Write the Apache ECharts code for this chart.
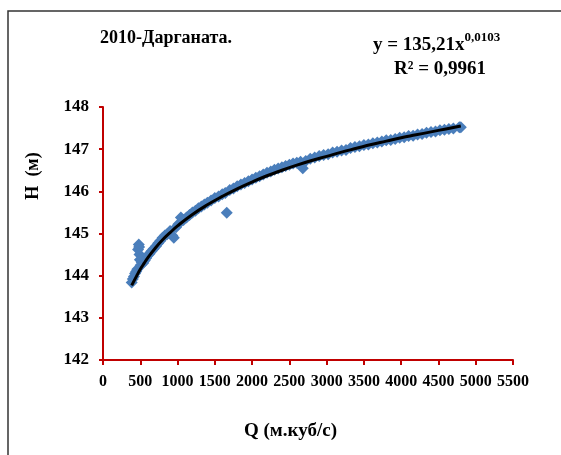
<!DOCTYPE html>
<html>
<head>
<meta charset="utf-8">
<script src="https://cdn.jsdelivr.net/npm/echarts@6/dist/echarts.min.js"></script>
<style>
  html, body { margin: 0; padding: 0; background: #fff; }
  #chart { width: 561px; height: 455px; }
</style>
</head>
<body>
<div id="chart"></div>
<script>
// measured points: Q (m3/s) and H (m)
const qValues = [385, 400, 415, 430, 445, 460, 470, 480, 485, 490, 495, 505, 520, 540, 560, 580, 600, 625, 650, 680,
  710, 740, 770, 800, 830, 860, 900, 930, 950, 980, 1010, 1045, 1080, 1120, 1160, 1200, 1240, 1280, 1320, 1360,
  1400, 1450, 1500, 1550, 1600, 1640, 1660, 1700, 1750, 1800, 1850, 1900, 1950, 2000, 2050, 2100, 2150, 2200, 2250, 2300,
  2350, 2400, 2450, 2500, 2550, 2600, 2650, 2680, 2720, 2780, 2840, 2900, 2960, 3020, 3080, 3140, 3200, 3260, 3320, 3380,
  3440, 3500, 3560, 3620, 3680, 3740, 3800, 3860, 3920, 3980, 4040, 4100, 4160, 4220, 4280, 4340, 4400, 4460, 4520, 4580,
  4640, 4700, 4780, 4800];
const hValues = [143.84, 143.92, 143.98, 144.05, 144.10, 144.15, 144.62, 144.74, 144.68, 144.50, 144.38, 144.25, 144.32, 144.30, 144.36, 144.42, 144.48, 144.52, 144.58, 144.64,
  144.70, 144.77, 144.83, 144.90, 144.95, 144.98, 145.06, 144.95, 144.90, 145.15, 145.22, 145.38, 145.32, 145.38, 145.44, 145.50, 145.54, 145.60, 145.64, 145.69,
  145.73, 145.78, 145.84, 145.88, 145.93, 145.96, 145.49, 146.03, 146.07, 146.12, 146.16, 146.20, 146.24, 146.28, 146.32, 146.36, 146.40, 146.44, 146.47, 146.51,
  146.54, 146.57, 146.60, 146.63, 146.66, 146.68, 146.70, 146.55, 146.72, 146.77, 146.80, 146.84, 146.86, 146.88, 146.92, 146.94, 146.97, 146.98, 147.03, 147.05,
  147.07, 147.10, 147.11, 147.14, 147.16, 147.18, 147.21, 147.22, 147.24, 147.27, 147.28, 147.31, 147.32, 147.35, 147.36, 147.39, 147.41, 147.42, 147.45, 147.46,
  147.48, 147.49, 147.52, 147.52];

// trend line
const trendQ = [385, 450, 500, 550, 600, 700, 800, 900, 1000, 1200, 1400, 1600, 1800, 2000, 2200, 2400, 2600, 2800, 3000, 3200,
  3400, 3600, 3800, 4000, 4200, 4400, 4600, 4800];
const trendH = [143.77, 143.99, 144.15, 144.29, 144.42, 144.65, 144.85, 145.02, 145.18, 145.45, 145.68, 145.88, 146.06, 146.22, 146.37, 146.50, 146.62, 146.73, 146.83, 146.93,
  147.02, 147.11, 147.19, 147.27, 147.34, 147.41, 147.48, 147.55];

const xTicks = [0, 500, 1000, 1500, 2000, 2500, 3000, 3500, 4000, 4500, 5000, 5500];
const yTicks = [142, 143, 144, 145, 146, 147, 148];

const chart = echarts.init(document.getElementById('chart'));

const serif = '"Liberation Serif", "Times New Roman", serif';
const red = '#c00000';

const option = {
  backgroundColor: '#fff',
  animation: false,
  graphic: [
    {
      type: 'rect',
      shape: { x: 8, y: 11, width: 620, height: 520 },
      style: { fill: 'none', stroke: '#333', lineWidth: 1.5 },
      silent: true
    },
    {
      type: 'text',
      left: 100, top: 29,
      style: { text: '2010-Дарганата.', font: 'bold 18px ' + serif, fill: '#000' }
    },
    {
      type: 'text',
      left: 373, top: 31,
      style: {
        text: '{b|y = 135,21x}{s|0,0103}',
        rich: {
          b: { font: 'bold 19px ' + serif, fill: '#000', verticalAlign: 'bottom', lineHeight: 24 },
          s: { font: 'bold 13px ' + serif, fill: '#000', verticalAlign: 'top', lineHeight: 24, padding: [0, 0, 10, 0] }
        }
      }
    },
    {
      type: 'text',
      left: 394, top: 60,
      style: { text: 'R² = 0,9961', font: 'bold 19px ' + serif, fill: '#000' }
    },
    {
      type: 'text',
      x: 33, y: 176,
      rotation: Math.PI / 2,
      style: { text: 'Н  (м)', font: 'bold 18px ' + serif, fill: '#000', align: 'center', verticalAlign: 'middle' }
    },
    {
      type: 'text',
      left: 244, top: 422,
      style: { text: 'Q (м.куб/с)', font: 'bold 19px ' + serif, fill: '#000' }
    }
  ],
  grid: { left: 103, right: 48, top: 107, bottom: 95 },
  xAxis: {
    type: 'value',
    min: xTicks[0],
    max: xTicks[xTicks.length - 1],
    interval: 500,
    splitLine: { show: false },
    axisLine: { lineStyle: { color: red, width: 2 } },
    axisTick: { show: true, length: 5, lineStyle: { color: red, width: 2 } },
    axisLabel: {
      color: '#000', fontFamily: serif, fontWeight: 'bold', fontSize: 16, margin: 14,
      formatter: (v) => String(v)
    }
  },
  yAxis: {
    type: 'value',
    min: yTicks[0],
    max: yTicks[yTicks.length - 1],
    interval: 1,
    splitLine: { show: false },
    axisLine: { show: true, lineStyle: { color: red, width: 2 } },
    axisTick: { show: true, length: 4, lineStyle: { color: red, width: 2 } },
    axisLabel: { color: '#000', fontFamily: serif, fontWeight: 'bold', fontSize: 17, margin: 14 }
  },
  series: [
    {
      type: 'scatter',
      symbol: 'diamond',
      symbolSize: 12,
      itemStyle: { color: '#4a7ebb', opacity: 1 },
      data: qValues.map((q, i) => [q, hValues[i]]),
      z: 2
    },
    {
      type: 'line',
      smooth: true,
      showSymbol: false,
      lineStyle: { color: '#000', width: 3 },
      data: trendQ.map((q, i) => [q, trendH[i]]),
      z: 3
    }
  ]
};

chart.setOption(option);
</script>
</body>
</html>
